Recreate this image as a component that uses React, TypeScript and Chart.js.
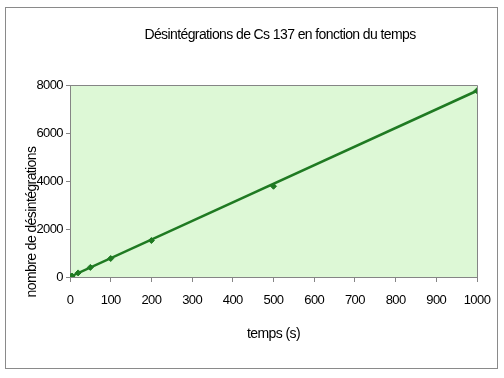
import React, { useEffect, useRef } from 'react';
import { Chart, registerables } from 'chart.js';

Chart.register(...registerables);

const TITLE = 'Désintégrations de Cs 137 en fonction du temps';
const X_LABEL = 'temps (s)';
const Y_LABEL = 'nombre de désintégrations';

const times = [0, 2, 5, 20, 50, 100, 200, 500, 1000];
const counts = [0, 15, 40, 170, 400, 770, 1520, 3780, 7760];

const trendTimes = [0, 1000];
const trendCounts = [10, 7760];

const X_MIN = 0;
const X_MAX = 1000;
const X_STEP = 100;
const Y_MIN = 0;
const Y_MAX = 8000;
const Y_STEP = 2000;

const GREEN = '#1f7a22';
const PLOT_BG = '#ddf8d6';
const AXIS_GREY = '#858585';
const FONT_FAMILY = "'Liberation Sans', Arial, sans-serif";
const SPACING = '-0.6px';

const spacingPlugin = {
  id: 'tightText',
  beforeUpdate(chart: any) {
    (chart.ctx as any).letterSpacing = SPACING;
  },
  beforeDraw(chart: any) {
    const ctx = chart.ctx as any;
    ctx.letterSpacing = SPACING;
    const { chartArea } = chart;
    ctx.save();
    ctx.fillStyle = '#ffffff';
    ctx.fillRect(0, 0, chart.width, chart.height);
    ctx.strokeStyle = '#8a8a8a';
    ctx.lineWidth = 1;
    ctx.strokeRect(5.5, 7.5, 492, 361);
    ctx.fillStyle = PLOT_BG;
    ctx.fillRect(chartArea.left, chartArea.top, chartArea.right - chartArea.left, chartArea.bottom - chartArea.top);
    ctx.strokeStyle = AXIS_GREY;
    ctx.beginPath();
    ctx.moveTo(chartArea.left, chartArea.top + 0.5);
    ctx.lineTo(chartArea.right + 0.5, chartArea.top + 0.5);
    ctx.lineTo(chartArea.right + 0.5, chartArea.bottom);
    ctx.stroke();
    ctx.restore();
  },
  afterDraw(chart: any) {
    const ctx = chart.ctx as any;
    ctx.save();
    ctx.letterSpacing = SPACING;
    ctx.fillStyle = '#000000';
    ctx.font = `14px ${FONT_FAMILY}`;
    ctx.textAlign = 'center';
    ctx.textBaseline = 'middle';
    ctx.fillText(TITLE, 280, 35);
    ctx.translate(32, 222);
    ctx.rotate(-Math.PI / 2);
    ctx.fillText(Y_LABEL, 0, 0);
    ctx.restore();
  },
};

export default function App() {
  const ref = useRef<HTMLCanvasElement | null>(null);

  useEffect(() => {
    document.body.style.margin = '0';
    const canvas = ref.current;
    if (!canvas) return;
    const points = times.map((t, i) => ({ x: t, y: counts[i] }));
    const trend = trendTimes.map((t, i) => ({ x: t, y: trendCounts[i] }));
    const chart = new Chart(canvas, {
      type: 'scatter',
      data: {
        datasets: [
          {
            label: 'trend',
            data: trend,
            showLine: true,
            borderColor: GREEN,
            borderWidth: 2.5,
            pointRadius: 0,
            order: 2,
          },
          {
            label: 'mesures',
            data: points,
            showLine: false,
            pointStyle: 'rectRot',
            pointRadius: 3,
            backgroundColor: GREEN,
            borderColor: GREEN,
            borderWidth: 1,
            order: 1,
          },
        ],
      },
      options: {
        animation: false,
        responsive: false,
        maintainAspectRatio: false,
        layout: { padding: { top: 85, left: 0, right: 27, bottom: 0 } },
        plugins: {
          legend: { display: false },
          title: { display: false },
          tooltip: { enabled: false },
        },
        scales: {
          x: {
            type: 'linear',
            min: X_MIN,
            max: X_MAX,
            ticks: {
              stepSize: X_STEP,
              color: '#000000',
              font: { family: FONT_FAMILY, size: 13 },
              padding: 11,
              maxRotation: 0,
              callback: (v: any) => String(v),
            },
            grid: {
              drawOnChartArea: false,
              drawTicks: true,
              tickLength: 5,
              color: AXIS_GREY,
            },
            border: { display: true, color: AXIS_GREY, width: 1 },
            title: {
              display: true,
              text: X_LABEL,
              color: '#000000',
              font: { family: FONT_FAMILY, size: 14 },
              padding: { top: 0, bottom: 35 },
            },
            afterFit: (scale: any) => {
              scale.height = 101;
            },
          },
          y: {
            type: 'linear',
            min: Y_MIN,
            max: Y_MAX,
            ticks: {
              stepSize: Y_STEP,
              color: '#000000',
              font: { family: FONT_FAMILY, size: 13 },
              padding: 3,
              callback: (v: any) => String(v),
            },
            grid: {
              drawOnChartArea: false,
              drawTicks: true,
              tickLength: 4,
              color: AXIS_GREY,
            },
            border: { display: true, color: AXIS_GREY, width: 1 },
            title: { display: false },
            afterFit: (scale: any) => {
              scale.width = 70;
            },
          },
        },
      },
      plugins: [spacingPlugin],
    });
    return () => chart.destroy();
  }, []);

  return (
    <div style={{ width: 504, height: 378, position: 'relative' }}>
      <canvas ref={ref} width={504} height={378} style={{ display: 'block', width: 504, height: 378 }} />
    </div>
  );
}
